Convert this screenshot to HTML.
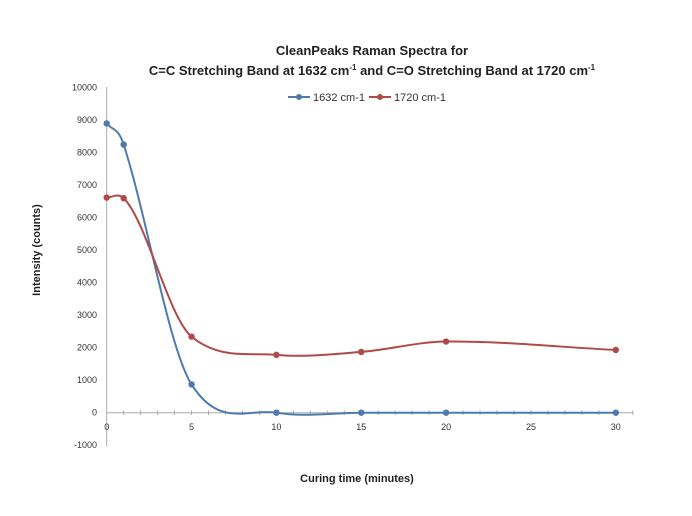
<!DOCTYPE html>
<html><head><meta charset="utf-8"><style>
body{margin:0;background:#fff;}
svg{display:block;font-family:"Liberation Sans",sans-serif;}
</style></head><body>
<svg id="s" width="692" height="516" viewBox="0 0 692 516">
<text x="372" y="55" text-anchor="middle" font-size="13" font-weight="bold" fill="#222">CleanPeaks Raman Spectra for</text>
<text x="372" y="75" text-anchor="middle" font-size="13" font-weight="bold" fill="#222">C=C Stretching Band at 1632 cm<tspan font-size="8" dy="-5">-1</tspan><tspan dy="5"> and C=O Stretching Band at 1720 cm</tspan><tspan font-size="8" dy="-5">-1</tspan></text>
<g font-size="11" fill="#333">
<line x1="288" y1="97" x2="310" y2="97" stroke="#4f7aad" stroke-width="2"/><circle cx="299" cy="97" r="3" fill="#4f7aad"/>
<text x="313" y="101">1632 cm-1</text>
<line x1="369" y1="97" x2="391" y2="97" stroke="#b04a48" stroke-width="2"/><circle cx="380" cy="97" r="3" fill="#b04a48"/>
<text x="394" y="101">1720 cm-1</text>
</g>
<g id="ax" stroke="#aaa" stroke-width="1"></g>
<g id="lab" font-size="9" fill="#333"></g>
<text x="357" y="482" text-anchor="middle" font-size="11" font-weight="bold" fill="#222">Curing time (minutes)</text>
<text transform="translate(40,250) rotate(-90)" text-anchor="middle" font-size="11" font-weight="bold" fill="#222">Intensity (counts)</text>
<g id="ser"></g>
</svg>
<script>
var NS="http://www.w3.org/2000/svg";
function X(t){return 106.7+t*16.97;}
function Y(v){return 412.7-v*0.0325;}
function el(p,tag,a,txt){var e=document.createElementNS(NS,tag);for(var k in a)e.setAttribute(k,a[k]);if(txt!==undefined)e.textContent=txt;document.getElementById(p).appendChild(e);return e;}
el("ax","line",{x1:106.7,y1:87,x2:106.7,y2:446});
el("ax","line",{x1:106.7,y1:412.7,x2:633,y2:412.7});
for(var t=1;t<=31;t++)el("ax","line",{x1:X(t),y1:410.5,x2:X(t),y2:415});
for(var v=-1000;v<=10000;v+=1000)el("lab","text",{x:97,y:Y(v)+3,"text-anchor":"end"},v);
[0,5,10,15,20,25,30].forEach(function(t){el("lab","text",{x:X(t),y:430,"text-anchor":"middle"},t);});
function series(d,c,k){
 var p=d.map(function(q){return [X(q[0]),Y(q[1])];});
 var n=p.length,m=[];
 for(var i=0;i<n;i++){
  var a=p[Math.max(i-1,0)],b=p[Math.min(i+1,n-1)];
  m[i]=(b[1]-a[1])/(b[0]-a[0])*k[i];
 }
 var s="M"+p[0][0]+","+p[0][1];
 for(var i=0;i<n-1;i++){
  var dx=(p[i+1][0]-p[i][0])/3;
  s+=" C"+(p[i][0]+dx)+","+(p[i][1]+m[i]*dx)+" "+(p[i+1][0]-dx)+","+(p[i+1][1]-m[i+1]*dx)+" "+p[i+1][0]+","+p[i+1][1];
 }
 el("ser","path",{d:s,fill:"none",stroke:c,"stroke-width":2});
 p.forEach(function(q){el("ser","circle",{cx:q[0],cy:q[1],r:3.2,fill:c});});
}
series([[0,8900],[1,8250],[5,870],[10,0],[15,0],[20,0],[30,0]],"#4f7aad",[1,1,0.9,1,1,1,1]);
series([[0,6620],[1,6600],[5,2340],[10,1780],[15,1870],[20,2190],[30,1930]],"#b04a48",[0,0.6,0.8,1,1,1,1]);
</script>
</body></html>
